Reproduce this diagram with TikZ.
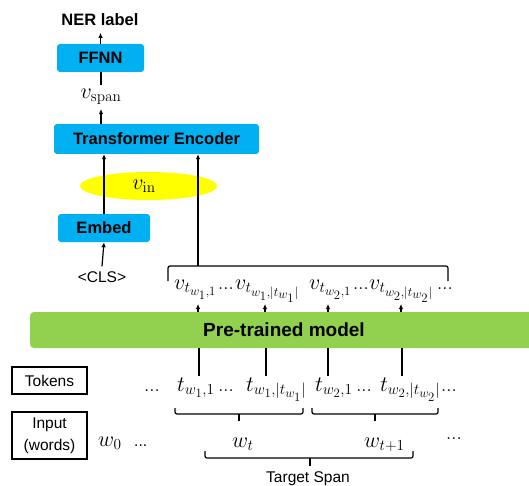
\RequirePackage{fix-cm}
\documentclass[tikz,border=0pt]{standalone}
\usepackage[no-math]{fontspec}
\newfontfamily\lsans{Liberation Sans}
\usetikzlibrary{arrows.meta,shapes.geometric}
\DeclareMathSizes{22}{22}{15.3}{12.8}
\definecolor{myblue}{HTML}{00B0F0}
\definecolor{mygreen}{HTML}{92D050}
\definecolor{myyellow}{HTML}{FFFF00}
\newcommand\mfs{\fontsize{22}{26}\selectfont}
\newcommand\dts{{\fontsize{19}{22}\selectfont${.}{.}{.}$}}
\begin{document}
\begin{tikzpicture}[x=1pt,y=-1pt,
  ln/.style={line width=1.2pt},
  arr/.style={ln,-{Latex[length=5pt,width=4.5pt]}},
  bluebox/.style={fill=myblue, rounded corners=3pt, inner sep=0pt, font=\lsans\bfseries\fontsize{16.5}{20}\selectfont},
  greenbar/.style={fill=mygreen, rounded corners=4pt, inner sep=0pt, font=\lsans\bfseries\fontsize{19}{23}\selectfont},
  lbl/.style={inner sep=1pt, font=\lsans\fontsize{15.5}{19}\selectfont},
  blbl/.style={inner xsep=1pt, inner ysep=6.5pt, font=\lsans\bfseries\fontsize{16.5}{20}\selectfont},
  mth/.style={inner sep=0pt, font=\mfs},
  sqbox/.style={draw, line width=1.3pt, inner sep=0pt, align=center, font=\lsans\fontsize{15.5}{22}\selectfont},
  brc/.style={ln, rounded corners=2pt},
]
\useasboundingbox (0,0) rectangle (529,486);

% top column
\node[blbl] (ner) at (100,20) {NER label};
\node[bluebox, minimum width=87pt, minimum height=28pt] (ffnn) at (100.5,58) {FFNN};
\node[mth, inner xsep=2pt, inner ysep=4pt] (vspan) at (101,97) {$v_{\mathrm{span}}$};
\node[bluebox, minimum width=205pt, minimum height=30pt] (trans) at (156.5,139) {Transformer Encoder};
\node[ellipse, fill=myyellow, minimum width=137pt, minimum height=28pt, inner sep=0pt] (ell) at (148.5,186) {};
\node[mth] (vin) at (144,186) {$v_{\mathrm{in}}$};
\node[bluebox, minimum width=92pt, minimum height=28pt] (embed) at (104,228) {Embed};
\node[lbl, inner ysep=5pt] (cls) at (102,277) {<CLS>};

\draw[arr] (ffnn.north) -- (ffnn.north |- ner.south);
\draw[ln] (vspan.north) -- (vspan.north |- ffnn.south);
\draw[arr] (trans.north -| vspan) -- (vspan.south);
\draw[arr] (embed.north) -- (embed.north |- trans.south);
\draw[arr] (cls.north) -- (embed.south);

% bracket over output vectors
\coordinate (bl) at (168,281);
\coordinate (bt) at (198,266);
\coordinate (br) at (448,281);
\draw[brc] (bl) -- (bl |- bt) -- (br |- bt) -- (br);
\draw[arr] (bt) -- (bt |- trans.south);

% output vectors
\node[mth, anchor=base west] (v1) at (174,289) {$v_{t_{w_1,1}}$};
\node[mth, anchor=base west] (d1) at (218,289) {\dts};
\node[mth, anchor=base west] (v2) at (235,289) {$v_{t_{w_1,|t_{w_1}|}}$};
\node[mth, anchor=base west] (v3) at (309,289) {$v_{t_{w_2,1}}$};
\node[mth, anchor=base west] (d2) at (353,289) {\dts};
\node[mth, anchor=base west] (v4) at (369,289) {$v_{t_{w_2,|t_{w_2}|}}$};
\node[mth, anchor=base west] (d3) at (437,289) {\dts};

% pre-trained model
\node[greenbar, minimum width=508pt, minimum height=36pt] (ptm) at (284,330) {Pre-trained model};

\coordinate (a1) at (198,304);
\coordinate (a2) at (265,304);
\coordinate (a3) at (328,304);
\coordinate (a4) at (401,304);
\foreach \a in {a1,a2,a3,a4} \draw[arr] (\a |- ptm.north) -- (\a);

\coordinate (b1) at (199,376);
\coordinate (b2) at (266,376);
\coordinate (b3) at (328,376);
\coordinate (b4) at (402,376);
\foreach \b in {b1,b2,b3,b4} \draw[ln] (\b |- ptm.south) -- (\b);

% left boxes
\node[sqbox, minimum width=75pt, minimum height=27pt] (tok) at (49.5,380.5) {Tokens};
\node[sqbox, minimum width=75pt, minimum height=47pt] (inp) at (49.5,435.5) {Input\\(words)};

% tokens
\node[mth, anchor=base west] (ld) at (144,391) {\dts};
\node[mth, anchor=base west] (t1) at (177,391) {$t_{w_1,1}\,$\dts};
\node[mth, anchor=base west] (t2) at (246,391) {$t_{w_1,|t_{w_1}|}$};
\node[mth, anchor=base west] (t3) at (315,391) {$t_{w_2,1}\,$\dts};
\node[mth, anchor=base west] (t4) at (380,391) {$t_{w_2,|t_{w_2}|}$};
\node[mth, anchor=base west] (td) at (441,391) {\dts};

% braces under tokens
\draw[brc] (175,408) -- (175,414) -- (303,414) -- (303,408);
\draw[ln] (239,414) -- (239,421);
\draw[brc] (312,408) -- (312,414) -- (438,414) -- (438,408);
\draw[ln] (375,414) -- (375,421);

% words
\node[mth, anchor=base west] (w0) at (98,446) {$w_0$};
\node[lbl, anchor=base west, inner sep=0pt] (wd) at (134,446) {...};
\node[mth, anchor=base west] (wt) at (232,447) {$w_t$};
\node[mth, anchor=base west] (wt1) at (364,447) {$w_{t+1}$};
\node[mth, anchor=base west] (wd2) at (446,439) {\dts};

% target span brace
\draw[brc] (205,451) -- (205,458) -- (413,458) -- (413,451);
\draw[ln] (310,458) -- (310,466);
\node[lbl] (ts) at (308,479) {Target Span};
\end{tikzpicture}
\end{document}
